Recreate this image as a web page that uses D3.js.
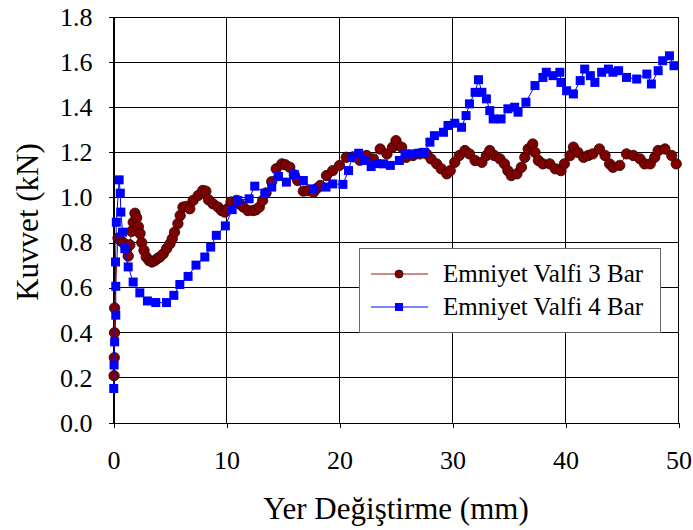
<!DOCTYPE html>
<html>
<head>
<meta charset="utf-8">
<script src="https://cdn.jsdelivr.net/npm/d3@7"></script>
<style>
  body { margin: 0; background: #fff; }
</style>
</head>
<body>
<svg id="chart" width="693" height="530"></svg>
<script>
// Load–displacement readings for the two relief-valve settings
const seriesNames = ["Emniyet Valfi 3 Bar", "Emniyet Valfi 4 Bar"];

const disp3 = [0.05, 0.07, 0.09, 0.1, 0.4, 0.6, 0.85, 1.15, 1.3, 1.45, 1.6, 1.75, 1.9, 2.05, 2.2, 2.35, 2.5, 2.7, 2.9, 3.15,
  3.4, 3.65, 3.9, 4.1, 4.4, 4.7, 5.0, 5.2, 5.4, 5.7, 5.9, 6.15, 6.45, 6.75, 7.05, 7.5, 7.9, 8.17, 8.4, 8.8,
  9.26, 9.56, 9.85, 10.1, 10.4, 10.9, 11.2, 11.5, 11.9, 12.35, 12.6, 12.9, 13.2, 13.5, 14.0, 14.4, 14.9, 15.2, 15.6, 16.0,
  16.3, 16.8, 17.2, 17.7, 18.0, 18.3, 18.85, 19.4, 20.0, 20.6, 21.2, 21.8, 22.4, 23.0, 23.6, 24.2, 24.7, 25.0, 25.5, 25.9,
  26.5, 27.1, 27.7, 28.1, 28.6, 29.0, 29.5, 29.8, 30.2, 30.6, 31.1, 31.5, 32.0, 32.6, 33.0, 33.3, 33.7, 34.2, 34.6, 34.9,
  35.2, 35.7, 36.1, 36.4, 36.7, 37.1, 37.3, 37.6, 38.0, 38.6, 39.1, 39.6, 39.9, 40.4, 40.7, 41.1, 41.6, 42.0, 42.4, 43.0,
  43.5, 43.9, 44.2, 44.8, 45.4, 46.0, 46.6, 47.0, 47.5, 47.9, 48.2, 48.8, 49.4, 49.8];
const force3 = [0.21, 0.29, 0.40, 0.51, 0.82, 0.81, 0.80, 0.77, 0.74, 0.79, 0.85, 0.89, 0.93, 0.91, 0.87, 0.84, 0.80, 0.765, 0.736, 0.72,
  0.714, 0.72, 0.73, 0.736, 0.75, 0.773, 0.795, 0.817, 0.846, 0.884, 0.92, 0.957, 0.96, 0.95, 0.987, 1.009, 1.031, 1.028, 0.99, 0.972,
  0.957, 0.942, 0.935, 0.95, 0.98, 0.987, 0.97, 0.957, 0.942, 0.942, 0.945, 0.957, 0.987, 1.02, 1.07, 1.127, 1.149, 1.145, 1.134, 1.10,
  1.075, 1.028, 1.03, 1.023, 1.04, 1.053, 1.097, 1.119, 1.142, 1.178, 1.18, 1.165, 1.186, 1.171, 1.215, 1.193, 1.223, 1.252, 1.223, 1.178,
  1.186, 1.193, 1.193, 1.171, 1.149, 1.127, 1.105, 1.119, 1.156, 1.186, 1.208, 1.193, 1.164, 1.156, 1.186, 1.208, 1.186, 1.171, 1.149, 1.119,
  1.097, 1.105, 1.134, 1.178, 1.215, 1.237, 1.2, 1.164, 1.149, 1.149, 1.127, 1.119, 1.149, 1.186, 1.223, 1.2, 1.178, 1.186, 1.193, 1.215,
  1.186, 1.149, 1.134, 1.142, 1.193, 1.186, 1.171, 1.149, 1.149, 1.178, 1.208, 1.215, 1.186, 1.149];

const disp4 = [0.02, 0.05, 0.1, 0.2, 0.2, 0.18, 0.25, 0.5, 0.6, 0.65, 0.8, 1.0, 1.3, 1.74, 2.33, 3.0, 3.74, 4.69, 5.34, 5.87,
  6.6, 7.3, 8.08, 8.6, 9.1, 9.9, 10.5, 11.0, 12.0, 12.5, 13.4, 14.0, 14.6, 15.3, 16.0, 16.8, 17.7, 18.8, 19.4, 20.3,
  20.8, 21.1, 21.7, 22.2, 22.8, 23.3, 23.9, 24.5, 25.3, 25.8, 26.4, 27.0, 27.5, 28.0, 28.4, 29.2, 29.6, 30.2, 30.8, 31.2,
  31.5, 32.0, 32.3, 32.6, 33.0, 33.3, 33.6, 34.3, 34.9, 35.5, 35.8, 36.5, 37.3, 38.0, 38.3, 38.9, 39.5, 39.6, 40.1, 40.7,
  41.3, 41.7, 42.2, 42.6, 43.2, 43.8, 44.2, 44.7, 45.4, 46.3, 47.2, 47.6, 48.2, 48.6, 49.2, 49.6];
const force4 = [0.153, 0.257, 0.36, 0.478, 0.606, 0.714, 0.89, 1.078, 1.019, 0.935, 0.846, 0.773, 0.692, 0.625, 0.577, 0.541, 0.534, 0.534, 0.566, 0.614,
  0.65, 0.70, 0.736, 0.78, 0.832, 0.874, 0.946, 0.987, 0.994, 1.05, 1.019, 1.046, 1.093, 1.068, 1.102, 1.075, 1.038, 1.046, 1.06, 1.058,
  1.119, 1.178, 1.196, 1.164, 1.137, 1.15, 1.149, 1.142, 1.164, 1.193, 1.193, 1.196, 1.2, 1.245, 1.274, 1.289, 1.319, 1.329, 1.311, 1.363,
  1.415, 1.466, 1.522, 1.466, 1.437, 1.385, 1.348, 1.348, 1.393, 1.4, 1.378, 1.422, 1.496, 1.532, 1.555, 1.54, 1.555, 1.51, 1.473, 1.459,
  1.518, 1.569, 1.54, 1.51, 1.555, 1.569, 1.555, 1.562, 1.532, 1.525, 1.547, 1.503, 1.562, 1.606, 1.628, 1.584];

const xTickValues = [0, 10, 20, 30, 40, 50];
const yTickValues = [0, 0.2, 0.4, 0.6, 0.8, 1.0, 1.2, 1.4, 1.6, 1.8];
const xTitle = "Yer Değiştirme (mm)";
const yTitle = "Kuvvet (kN)";

const FONT = "Liberation Serif";
const plot = { left: 113.5, right: 678.5, top: 17, bottom: 423 };
const svg = d3.select("#chart");

const x = d3.scaleLinear().domain([0, 50]).range([plot.left, plot.right]);
const y = d3.scaleLinear().domain([0, 1.8]).range([plot.bottom, plot.top]);

// Grid
const grid = svg.append("g").attr("stroke", "#000").attr("stroke-width", 1).attr("shape-rendering", "crispEdges");
grid.selectAll("line.h").data(yTickValues).join("line")
  .attr("x1", plot.left).attr("x2", plot.right)
  .attr("y1", d => y(d)).attr("y2", d => y(d));
grid.selectAll("line.v").data(xTickValues).join("line")
  .attr("y1", plot.top).attr("y2", plot.bottom)
  .attr("x1", d => x(d)).attr("x2", d => x(d));

// Axes
const xAxis = svg.append("g").attr("transform", `translate(0,${plot.bottom})`)
  .call(d3.axisBottom(x).tickValues(xTickValues).tickSize(5).tickPadding(23).tickSizeOuter(0));
const yAxis = svg.append("g").attr("transform", `translate(${plot.left},0)`)
  .call(d3.axisLeft(y).tickValues(yTickValues).tickFormat(d3.format(".1f")).tickSize(5).tickPadding(16).tickSizeOuter(0));
[xAxis, yAxis].forEach(a => {
  a.attr("font-family", FONT).attr("font-size", 26);
  a.select(".domain").attr("stroke", "#000").attr("shape-rendering", "crispEdges");
  a.selectAll(".tick line").attr("stroke", "#000").attr("shape-rendering", "crispEdges");
  a.selectAll(".tick text").style("font-family", FONT).style("font-size", "26px").attr("fill", "#000");
});

// Axis titles
svg.append("text").attr("x", (plot.left + plot.right) / 2).attr("y", 519)
  .attr("text-anchor", "middle").style("font-family", FONT).style("font-size", "31px").text(xTitle);
svg.append("text").attr("transform", "translate(38,222) rotate(-90)")
  .attr("text-anchor", "middle").style("font-family", FONT).style("font-size", "31px").text(yTitle);

// Series
const pts3 = disp3.map((d, i) => [d, force3[i]]);
const pts4 = disp4.map((d, i) => [d, force4[i]]);
const line = d3.line().x(d => x(d[0])).y(d => y(d[1]));

const red = "#800000", blue = "#0000ff";

svg.append("path").datum(pts3).attr("d", line).attr("fill", "none").attr("stroke", "#a01010").attr("stroke-width", 1);
svg.append("g").selectAll("circle").data(pts3).join("circle")
  .attr("cx", d => x(d[0])).attr("cy", d => y(d[1])).attr("r", 5.2)
  .attr("fill", red).attr("stroke", "#2a0000").attr("stroke-width", 0.8);

svg.append("path").datum(pts4).attr("d", line).attr("fill", "none").attr("stroke", blue).attr("stroke-width", 1);
const sq = 9;
svg.append("g").selectAll("rect").data(pts4).join("rect")
  .attr("x", d => x(d[0]) - sq / 2).attr("y", d => y(d[1]) - sq / 2)
  .attr("width", sq).attr("height", sq).attr("fill", blue);

// Legend
const lg = svg.append("g");
lg.append("rect").attr("x", 359.5).attr("y", 248.5).attr("width", 301).attr("height", 84)
  .attr("fill", "#fff").attr("stroke", "#666").attr("stroke-width", 1);
const rows = [274, 307];
rows.forEach((ry, i) => {
  lg.append("line").attr("x1", 371).attr("x2", 428).attr("y1", ry).attr("y2", ry)
    .attr("stroke", i === 0 ? "#a01010" : blue).attr("stroke-width", 1);
  if (i === 0) {
    lg.append("circle").attr("cx", 399).attr("cy", ry).attr("r", 4)
      .attr("fill", red).attr("stroke", "#2a0000").attr("stroke-width", 0.8);
  } else {
    lg.append("rect").attr("x", 395).attr("y", ry - 4).attr("width", 8).attr("height", 8).attr("fill", blue);
  }
  lg.append("text").attr("x", 443).attr("y", ry + 7.5).style("font-family", FONT).style("font-size", "25px").text(seriesNames[i]);
});
</script>
</body>
</html>
